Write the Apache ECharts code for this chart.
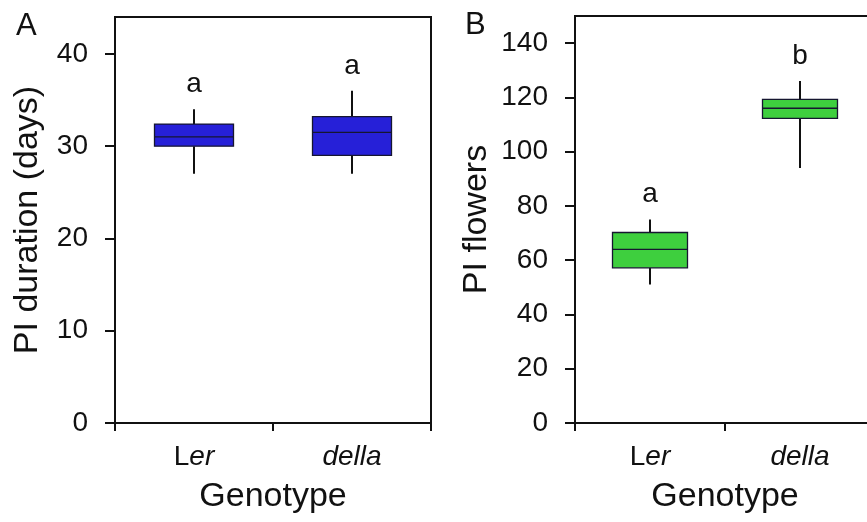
<!DOCTYPE html>
<html>
<head>
<meta charset="utf-8">
<script src="https://cdn.jsdelivr.net/npm/echarts@6/dist/echarts.min.js"></script>
<style>
  html, body { margin: 0; padding: 0; background: #fff; }
  #main { width: 867px; height: 522px; }
</style>
</head>
<body>
<div id="main"></div>
<script>
var genotypes = ['Ler', 'della'];
// [min, q1, median, q3, max]
var durationStats = [[27, 30, 31, 32.4, 34], [27, 29, 31.5, 33.2, 36]];
var flowerStats = [[51, 57.2, 64, 70.2, 75], [94, 112.3, 116, 119.3, 126]];
var durationLetters = ['a', 'a'];
var flowerLetters = ['a', 'b'];
var durationTicks = [0, 10, 20, 30, 40];
var flowerTicks = [0, 20, 40, 60, 80, 100, 120, 140];

var FONT = 'Liberation Sans, Arial, sans-serif';

var chartDom = document.getElementById('main');
var myChart = echarts.init(chartDom);
var option;

function toData(stats) {
  return stats.map(function (s, i) { return [i].concat(s); });
}

function boxRender(letters, fill) {
  return function (params, api) {
    var x = api.value(0);
    var pMin = api.coord([x, api.value(1)]);
    var pQ1 = api.coord([x, api.value(2)]);
    var pMed = api.coord([x, api.value(3)]);
    var pQ3 = api.coord([x, api.value(4)]);
    var pMax = api.coord([x, api.value(5)]);
    var hw = api.size([1, 0])[0] * 0.25;
    var cx = pMed[0];
    return {
      type: 'group',
      children: [
        { type: 'line', shape: { x1: cx, y1: pMin[1], x2: cx, y2: pQ1[1] }, style: { stroke: '#111', lineWidth: 2 } },
        { type: 'line', shape: { x1: cx, y1: pQ3[1], x2: cx, y2: pMax[1] }, style: { stroke: '#111', lineWidth: 2 } },
        { type: 'rect', shape: { x: cx - hw, y: pQ3[1], width: hw * 2, height: pQ1[1] - pQ3[1] },
          style: { fill: fill, stroke: '#161630', lineWidth: 1.3 } },
        { type: 'line', shape: { x1: cx - hw, y1: pMed[1], x2: cx + hw, y2: pMed[1] }, style: { stroke: '#161630', lineWidth: 1.3 } },
        { type: 'text', x: cx, y: pMax[1] - 25,
          style: { text: letters[params.dataIndex], fill: '#111', font: '28px ' + FONT, align: 'center', verticalAlign: 'middle' } }
      ]
    };
  };
}

var catLabel = {
  fontSize: 28,
  fontFamily: FONT,
  color: '#111',
  margin: 20,
  formatter: function (v) {
    return v === 'Ler' ? '{n|L}{i|er}' : '{i|' + v + '}';
  },
  rich: {
    n: { fontSize: 28, fontFamily: FONT, color: '#111' },
    i: { fontSize: 28, fontFamily: FONT, fontStyle: 'italic', color: '#111' }
  }
};

function xAxisFor(gridIndex) {
  return {
    type: 'category',
    gridIndex: gridIndex,
    data: genotypes,
    boundaryGap: true,
    name: 'Genotype',
    nameLocation: 'middle',
    nameGap: 57,
    nameTextStyle: { fontSize: 34, fontFamily: FONT, color: '#111' },
    axisLine: { lineStyle: { color: '#111', width: 2 } },
    axisTick: { show: true, length: 8, lineStyle: { color: '#111', width: 2 } },
    axisLabel: catLabel
  };
}

function yAxisFor(gridIndex, name, max, ticks, gap) {
  return {
    type: 'value',
    gridIndex: gridIndex,
    min: 0,
    max: max,
    name: name,
    nameLocation: 'middle',
    nameRotate: 90,
    nameGap: gap,
    nameTextStyle: { fontSize: 34, fontFamily: FONT, color: '#111' },
    splitLine: { show: false },
    axisLine: { show: true, lineStyle: { color: '#111', width: 2 } },
    axisTick: { show: true, length: 10, customValues: ticks, lineStyle: { color: '#111', width: 2 } },
    axisLabel: { customValues: ticks, fontSize: 28, fontFamily: FONT, color: '#111', margin: 27 }
  };
}

option = {
  animation: false,
  backgroundColor: '#fff',
  title: [
    { text: 'A', left: 11, top: 6, textStyle: { fontSize: 31, fontWeight: 'normal', fontFamily: FONT, color: '#111' } },
    { text: 'B', left: 460, top: 5, textStyle: { fontSize: 31, fontWeight: 'normal', fontFamily: FONT, color: '#111' } }
  ],
  grid: [
    { left: 115, top: 17, width: 316, height: 406, show: true, borderColor: '#111', borderWidth: 2,
      backgroundColor: 'transparent', outerBoundsMode: 'none' },
    { left: 575, top: 16, width: 300, height: 407, show: true, borderColor: '#111', borderWidth: 2,
      backgroundColor: 'transparent', outerBoundsMode: 'none' }
  ],
  xAxis: [xAxisFor(0), xAxisFor(1)],
  yAxis: [
    yAxisFor(0, 'PI duration (days)', 44, durationTicks, 70),
    yAxisFor(1, 'PI flowers', 150, flowerTicks, 81)
  ],
  series: [
    {
      type: 'custom',
      xAxisIndex: 0,
      yAxisIndex: 0,
      data: toData(durationStats),
      encode: { x: 0, y: [1, 2, 3, 4, 5] },
      renderItem: boxRender(durationLetters, '#2620d8')
    },
    {
      type: 'custom',
      xAxisIndex: 1,
      yAxisIndex: 1,
      data: toData(flowerStats),
      encode: { x: 0, y: [1, 2, 3, 4, 5] },
      renderItem: boxRender(flowerLetters, '#3ecf3e')
    }
  ]
};

option && myChart.setOption(option);
</script>
</body>
</html>
